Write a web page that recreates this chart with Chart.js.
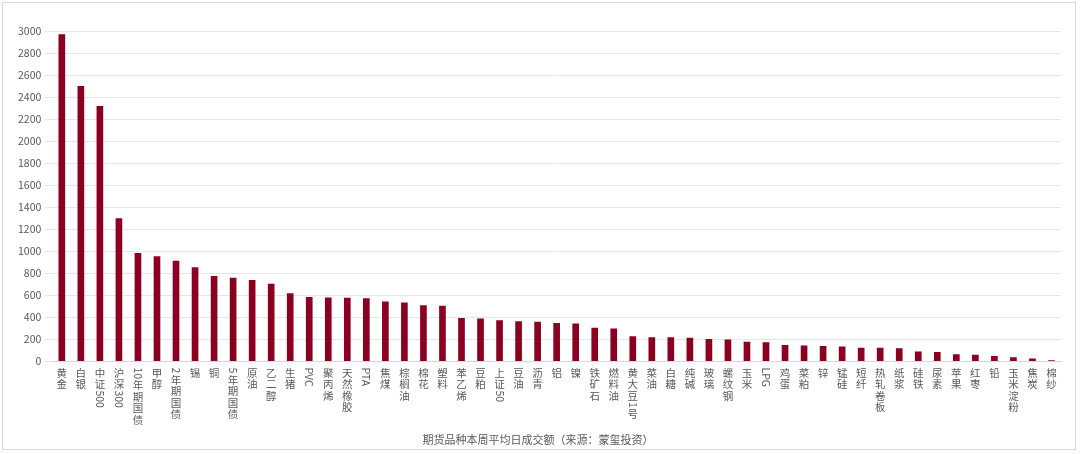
<!DOCTYPE html>
<html><head><meta charset="utf-8">
<script src="https://cdn.jsdelivr.net/npm/chart.js@4"></script>
<style>
body{margin:0;background:#fff}
#wrap{position:absolute;left:2px;top:2px;width:1074px;height:448px;border:1px solid #d9d9d9;box-sizing:border-box}
</style></head><body>
<div id="wrap"><canvas id="myChart"></canvas></div>
<script>
// 品种
const pinzhong = ['黄金','白银','中证500','沪深300','10年期国债','甲醇','2年期国债','锡','铜','5年期国债','原油','乙二醇','生猪','PVC','聚丙烯','天然橡胶','PTA','焦煤','棕榈油','棉花','塑料','苯乙烯','豆粕','上证50','豆油','沥青','铝','镍','铁矿石','燃料油','黄大豆1号','菜油','白糖','纯碱','玻璃','螺纹钢','玉米','LPG','鸡蛋','菜粕','锌','锰硅','短纤','热轧卷板','纸浆','硅铁','尿素','苹果','红枣','铅','玉米淀粉','焦炭','棉纱'];
// 平均日成交额
const chengjiao = [2970,2500,2320,1300,985,955,915,855,775,760,740,705,620,585,580,578,575,545,535,510,505,395,390,375,365,360,350,345,305,300,230,220,220,215,205,200,180,175,150,145,140,135,125,125,120,90,85,65,60,50,38,28,10];
const yTicks = {min:0,max:3000,step:200};

const fuente = '10.5px "Noto Sans CJK SC"';

// etiquetas verticales: CJK apilado, letras/números girados
const etiquetasVerticales = {
  id: 'etiquetasVerticales',
  afterDraw(chart) {
    const ctx = chart.ctx;
    const x = chart.scales.x;
    ctx.save();
    ctx.font = fuente;
    ctx.fillStyle = '#595959';
    pinzhong.forEach((p, i) => {
      const cx = x.getPixelForTick(i);
      let y = x.top + 6;
      const partes = p.match(/[A-Za-z0-9]+|./g);
      partes.forEach(t => {
        if (/^[A-Za-z0-9]+$/.test(t)) {
          const w = ctx.measureText(t).width;
          ctx.save();
          ctx.translate(cx, y);
          ctx.rotate(Math.PI / 2);
          ctx.textAlign = 'left';
          ctx.textBaseline = 'middle';
          ctx.fillText(t, 0, 0);
          ctx.restore();
          y += w + 1;
        } else {
          ctx.textAlign = 'center';
          ctx.textBaseline = 'top';
          ctx.fillText(t, cx, y);
          y += 11.5;
        }
      });
    });
    ctx.restore();
  }
};

new Chart(document.getElementById('myChart'), {
  type: 'bar',
  data: {
    labels: pinzhong,
    datasets: [{data: chengjiao, backgroundColor: '#8b0020', barPercentage: 0.35, categoryPercentage: 1}]
  },
  options: {
    responsive: true, maintainAspectRatio: false, animation: false,
    layout: {padding: {left: 12, right: 14, top: 28, bottom: 3}},
    plugins: {
      legend: {display: false},
      tooltip: {enabled: false},
      title: {display: true, position: 'bottom', text: '期货品种本周平均日成交额（来源：蒙玺投资）',
        color: '#595959', font: {size: 11, family: 'Noto Sans CJK SC', weight: 'normal'}, padding: {top: 0, bottom: 0}}
    },
    scales: {
      x: {grid: {display: false}, border: {color: '#d9d9d9'},
        ticks: {color: 'rgba(0,0,0,0)', maxRotation: 0, autoSkip: false,
          callback: () => ['','','','','',''], font: {size: 10.5, lineHeight: 0.91}}},
      y: {min: yTicks.min, max: yTicks.max, grid: {color: '#e6e6e6'}, border: {display: false},
        ticks: {stepSize: yTicks.step, color: '#595959', callback: v => String(v),
          font: {size: 10.5, family: 'Noto Sans CJK SC'}}}
    }
  },
  plugins: [etiquetasVerticales]
});
</script></body></html>
